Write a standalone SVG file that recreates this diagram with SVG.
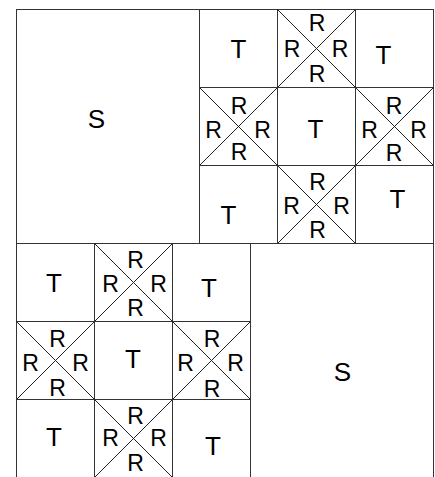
<svg xmlns="http://www.w3.org/2000/svg" width="435" height="477" viewBox="0 0 435 477">
<style>
  .box { fill: #ffffff; stroke: #333333; stroke-width: 1; }
  .diag { stroke: #222222; stroke-width: 1; fill: none; }
  .lbl { font-family: "Liberation Sans", Arial, sans-serif; fill: #000000; text-anchor: middle; }
  .big { font-size: 26px; }
  .r { font-size: 23px; }
</style>
<rect width="435" height="477" fill="#ffffff"/>
<g transform="translate(0.5,0.5)">
  <g id="S-top">
    <rect class="box" x="16" y="9" width="183" height="234"/>
    <text class="lbl big" x="96" y="127">S</text>
  </g>
  <g id="top-T1"><rect class="box" x="199" y="9" width="78" height="78"/><text class="lbl big" x="238" y="57">T</text></g>
  <g id="top-X1">
    <rect class="box" x="277" y="9" width="78" height="78"/>
    <path class="diag" d="M277 9 L355 87 M355 9 L277 87"/>
    <text class="lbl r" x="316.5" y="30">R</text><text class="lbl r" x="291.5" y="56">R</text><text class="lbl r" x="339.5" y="56">R</text><text class="lbl r" x="316.5" y="81">R</text>
  </g>
  <g id="top-T2"><rect class="box" x="355" y="9" width="78" height="78"/><text class="lbl big" x="383" y="63">T</text></g>
  <g id="top-X2">
    <rect class="box" x="199" y="87" width="78" height="78"/>
    <path class="diag" d="M199 87 L277 165 M277 87 L199 165"/>
    <text class="lbl r" x="238.5" y="113">R</text><text class="lbl r" x="213" y="137">R</text><text class="lbl r" x="262" y="137">R</text><text class="lbl r" x="238.5" y="159">R</text>
  </g>
  <g id="top-T3"><rect class="box" x="277" y="87" width="78" height="78"/><text class="lbl big" x="315" y="137">T</text></g>
  <g id="top-X3">
    <rect class="box" x="355" y="87" width="78" height="78"/>
    <path class="diag" d="M355 87 L433 165 M433 87 L355 165"/>
    <text class="lbl r" x="393.5" y="113">R</text><text class="lbl r" x="369" y="137">R</text><text class="lbl r" x="418" y="137">R</text><text class="lbl r" x="393.5" y="160">R</text>
  </g>
  <g id="top-T4"><rect class="box" x="199" y="165" width="78" height="78"/><text class="lbl big" x="228" y="223">T</text></g>
  <g id="top-X4">
    <rect class="box" x="277" y="165" width="78" height="78"/>
    <path class="diag" d="M277 165 L355 243 M355 165 L277 243"/>
    <text class="lbl r" x="317" y="189">R</text><text class="lbl r" x="291" y="213">R</text><text class="lbl r" x="341" y="213">R</text><text class="lbl r" x="317" y="237">R</text>
  </g>
  <g id="top-T5"><rect class="box" x="355" y="165" width="78" height="78"/><text class="lbl big" x="397" y="207">T</text></g>

  <g id="bot-T1"><rect class="box" x="16" y="243" width="78" height="78"/><text class="lbl big" x="53.5" y="291">T</text></g>
  <g id="bot-X1">
    <rect class="box" x="94" y="243" width="78" height="78"/>
    <path class="diag" d="M94 243 L172 321 M172 243 L94 321"/>
    <text class="lbl r" x="135" y="267">R</text><text class="lbl r" x="110" y="291">R</text><text class="lbl r" x="158" y="291">R</text><text class="lbl r" x="135" y="315">R</text>
  </g>
  <g id="bot-T2"><rect class="box" x="172" y="243" width="78" height="78"/><text class="lbl big" x="208.5" y="296">T</text></g>
  <g id="bot-X2">
    <rect class="box" x="16" y="321" width="78" height="78"/>
    <path class="diag" d="M16 321 L94 399 M94 321 L16 399"/>
    <text class="lbl r" x="57" y="346">R</text><text class="lbl r" x="30" y="370">R</text><text class="lbl r" x="80" y="370">R</text><text class="lbl r" x="57" y="395">R</text>
  </g>
  <g id="bot-T3"><rect class="box" x="94" y="321" width="78" height="78"/><text class="lbl big" x="132.5" y="367">T</text></g>
  <g id="bot-X3">
    <rect class="box" x="172" y="321" width="78" height="78"/>
    <path class="diag" d="M172 321 L250 399 M250 321 L172 399"/>
    <text class="lbl r" x="211.5" y="346.5">R</text><text class="lbl r" x="185" y="370.5">R</text><text class="lbl r" x="235" y="370.5">R</text><text class="lbl r" x="211.5" y="396.5">R</text>
  </g>
  <g id="bot-T4"><rect class="box" x="16" y="399" width="78" height="82"/><text class="lbl big" x="53.5" y="445">T</text></g>
  <g id="bot-X4">
    <rect class="box" x="94" y="399" width="78" height="82"/>
    <path class="diag" d="M94 399 L172 477 M172 399 L94 477"/>
    <text class="lbl r" x="135" y="423">R</text><text class="lbl r" x="110" y="445">R</text><text class="lbl r" x="158" y="445">R</text><text class="lbl r" x="135" y="470">R</text>
  </g>
  <g id="bot-T5"><rect class="box" x="172" y="399" width="78" height="82"/><text class="lbl big" x="212.5" y="454">T</text></g>
  <g id="S-bottom">
    <rect class="box" x="250" y="243" width="183" height="238"/>
    <text class="lbl big" x="342" y="380">S</text>
  </g>
</g>
</svg>
